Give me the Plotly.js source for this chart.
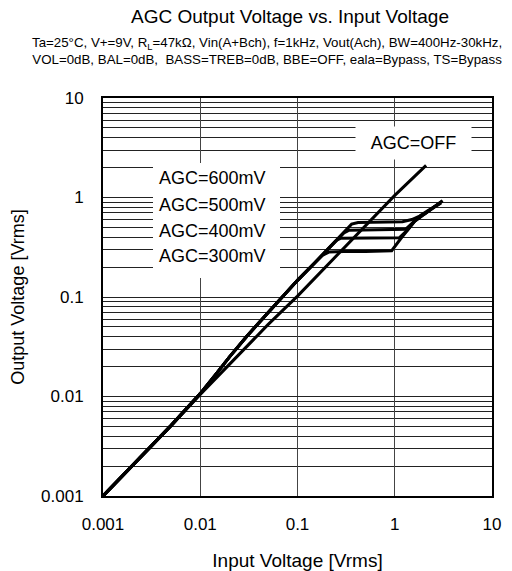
<!DOCTYPE html>
<html>
<head>
<meta charset="utf-8">
<script src="https://cdn.plot.ly/plotly-3.0.1.min.js"></script>
<style>html,body{margin:0;padding:0;background:#fff;}#chart{width:512px;height:571px;}</style>
</head>
<body>
<div id="chart"></div>
<script>
// ---- data ----
var offX = [0.001, 0.002, 0.005, 0.01, 0.02, 0.05, 0.1, 0.2, 0.5, 1, 2.1];
var offY = [0.001, 0.002, 0.0051, 0.0105, 0.021, 0.053, 0.102, 0.205, 0.52, 1.05, 2.1];

// shared (linear) part of the AGC curves
var agcLowX = [0.001, 0.002, 0.005, 0.01, 0.0125, 0.015, 0.02, 0.03, 0.05, 0.07, 0.1, 0.15];
var agcLowY = [0.001, 0.002, 0.0051, 0.0107, 0.0142, 0.0175, 0.025, 0.04, 0.07, 0.1, 0.147, 0.22];

var agc300X = [0.18, 0.21, 0.3, 0.5, 0.8, 0.93, 1.15, 1.35, 1.6, 2, 2.5, 3.1];
var agc300Y = [0.262, 0.283, 0.287, 0.287, 0.287, 0.292, 0.385, 0.47, 0.575, 0.68, 0.8, 0.92];
var agc400X = [0.2, 0.25, 0.28, 0.5, 0.9, 1.12, 1.35, 1.6, 2, 2.5, 3.1];
var agc400Y = [0.295, 0.37, 0.39, 0.392, 0.392, 0.395, 0.47, 0.575, 0.68, 0.8, 0.93];
var agc500X = [0.2, 0.3, 0.34, 0.6, 1.1, 1.3, 1.6, 2, 2.5, 3.0];
var agc500Y = [0.295, 0.44, 0.47, 0.475, 0.475, 0.48, 0.58, 0.68, 0.79, 0.88];
var agc600X = [0.2, 0.3, 0.36, 0.42, 0.8, 1.2, 1.5, 1.8, 2.2, 2.9];
var agc600Y = [0.295, 0.45, 0.54, 0.56, 0.563, 0.57, 0.6, 0.65, 0.74, 0.87];

var xTicks = [0.001, 0.01, 0.1, 1, 10];
var xTickText = ['0.001', '0.01', '0.1', '1', '10'];
var yTicks = [0.001, 0.01, 0.1, 1, 10];
var yTickText = ['0.001', '0.01', '0.1', '1', '10'];

var agcLabels = ['AGC=600mV', 'AGC=500mV', 'AGC=400mV', 'AGC=300mV'];
var offLabel = 'AGC=OFF';
var titleText = 'AGC Output Voltage vs. Input Voltage';
var subTitle = 'Ta=25°C, V+=9V, R<sub>L</sub>=47kΩ, Vin(A+Bch), f=1kHz, Vout(Ach), BW=400Hz-30kHz,<br>VOL=0dB, BAL=0dB,  BASS=TREB=0dB, BBE=OFF, eala=Bypass, TS=Bypass';
var xTitle = 'Input Voltage [Vrms]';
var yTitle = 'Output Voltage [Vrms]';

// ---- build ----
var FONT = 'Arial, "Liberation Sans", sans-serif';
var lineStyle = {color: '#000', width: 3};
function tr(x, y) {
  return {x: x, y: y, type: 'scatter', mode: 'lines', line: lineStyle, hoverinfo: 'skip', showlegend: false};
}
var traces = [
  tr(offX, offY),
  tr(agcLowX.concat(agc300X), agcLowY.concat(agc300Y)),
  tr(agcLowX.concat(agc400X), agcLowY.concat(agc400Y)),
  tr(agcLowX.concat(agc500X), agcLowY.concat(agc500Y)),
  tr(agcLowX.concat(agc600X), agcLowY.concat(agc600Y))
];

var L = 103, R = 492, T = 98, B = 496, W = 512, H = 571;
function px(x) { return (x - L) / (R - L); }
function py(y) { return (B - y) / (B - T); }

var annotations = [
  {xref: 'paper', yref: 'paper', x: px(267), y: py(51), xanchor: 'center', yanchor: 'middle',
   text: subTitle, showarrow: false, font: {family: FONT, size: 13.3, color: '#000'}},
  {xref: 'paper', yref: 'paper', x: px(413.5), y: py(143), xanchor: 'center', yanchor: 'middle',
   text: offLabel, showarrow: false, bgcolor: '#fff', width: 113, height: 30,
   font: {family: FONT, size: 18, color: '#000'}}
];
var labelY = [178, 205, 231, 256];
for (var i = 0; i < agcLabels.length; i++) {
  annotations.push({xref: 'paper', yref: 'paper', x: px(157), y: py(labelY[i]), xanchor: 'left', yanchor: 'middle',
    text: agcLabels[i], showarrow: false, font: {family: FONT, size: 18, color: '#000'}});
}

var layout = {
  width: W, height: H,
  margin: {l: L, r: W - R, t: T, b: H - B},
  paper_bgcolor: '#fff', plot_bgcolor: '#fff',
  font: {family: FONT, color: '#000'},
  title: {text: titleText, x: 290 / W, xanchor: 'center', xref: 'container',
          y: 1 - 16 / H, yanchor: 'middle', yref: 'container',
          font: {family: FONT, size: 19, color: '#000'}},
  xaxis: {
    type: 'log', range: [-3, 1], tickmode: 'array', tickvals: xTicks, ticktext: xTickText,
    showgrid: true, gridcolor: '#444', gridwidth: 1, zeroline: false,
    showline: true, mirror: true, linecolor: '#000', linewidth: 2, ticks: '',
    tickfont: {family: FONT, size: 17, color: '#000'}, ticklabelstandoff: 12,
    title: {text: xTitle, font: {family: FONT, size: 19, color: '#000'}, standoff: 21},
    automargin: false, fixedrange: true
  },
  yaxis: {
    type: 'log', range: [-3, 1], tickmode: 'array', tickvals: yTicks, ticktext: yTickText,
    showgrid: true, gridcolor: '#222', gridwidth: 1, zeroline: false,
    minor: {dtick: 'D1', showgrid: true, gridcolor: '#222', gridwidth: 1, ticks: ''},
    showline: true, mirror: true, linecolor: '#000', linewidth: 2, ticks: '',
    tickfont: {family: FONT, size: 17, color: '#000'}, ticklabelstandoff: 14,
    title: {text: yTitle, font: {family: FONT, size: 18, color: '#000'}, standoff: 12},
    automargin: false, fixedrange: true
  },
  shapes: [
    {type: 'rect', xref: 'paper', yref: 'paper', x0: px(153), x1: px(280), y0: py(278), y1: py(163),
     fillcolor: '#fff', line: {width: 0}, layer: 'above'}
  ],
  annotations: annotations
};

Plotly.newPlot('chart', traces, layout, {staticPlot: true, displayModeBar: false});
</script>
</body>
</html>
